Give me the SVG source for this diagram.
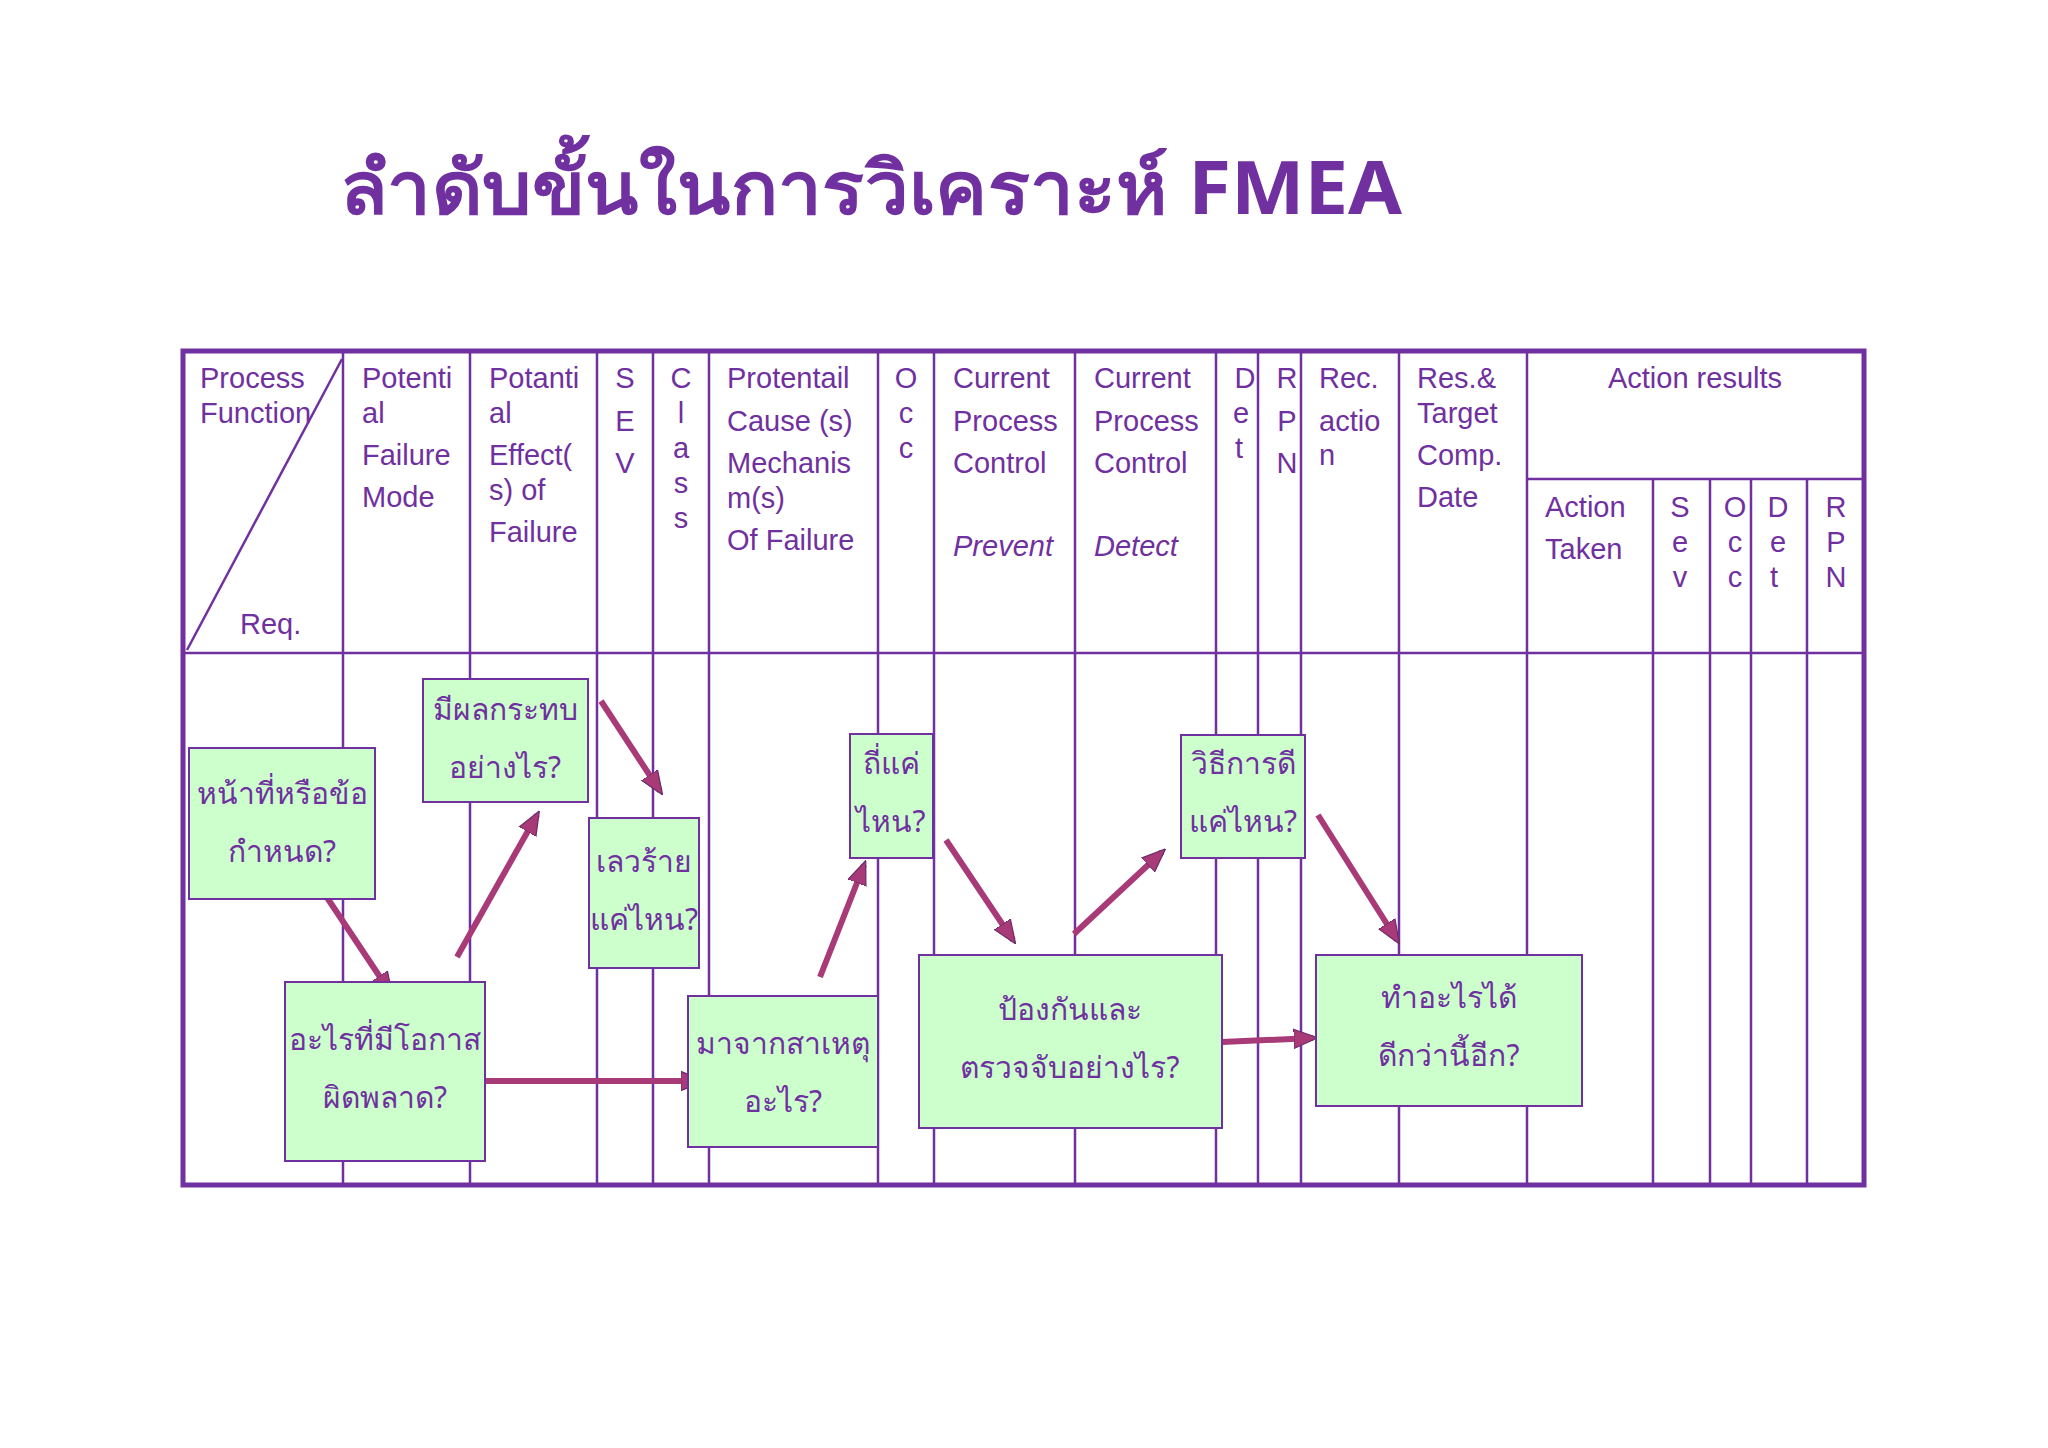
<svg xmlns="http://www.w3.org/2000/svg" width="2048" height="1448" viewBox="0 0 2048 1448">
<style>
.h{font-family:"Liberation Sans",Arial,sans-serif;font-size:29px;fill:#7030a0}
.c{text-anchor:middle}
.ln{stroke:#7030a0;stroke-width:2.5;fill:none}
.box rect{fill:#ccffcc;stroke:#7030a0;stroke-width:2}
.box text{font-family:"Noto Sans","Noto Sans CJK SC","DejaVu Sans",sans-serif;font-size:30px;fill:#7030a0;text-anchor:middle}
.ar{stroke:#a83a78;stroke-width:6;fill:none;marker-end:url(#ah)}
</style>
<defs>
<marker id="ah" viewBox="0 0 10 10" refX="8" refY="5" markerWidth="4" markerHeight="4" orient="auto" markerUnits="strokeWidth">
<path d="M0,1 L10,5 L0,9 z" fill="#a83a78" stroke="#6a2c6a" stroke-width="0.5"/>
</marker>
</defs>
<rect width="2048" height="1448" fill="#fff"/>
<text x="340" y="214" font-family="Noto Sans,DejaVu Sans,sans-serif" font-size="74" font-weight="bold" fill="#7030a0" textLength="1062" lengthAdjust="spacingAndGlyphs">ลำดับขั้นในการวิเคราะห์ FMEA</text>
<g id="table">
<rect x="183" y="351" width="1681" height="834" fill="none" stroke="#7030a0" stroke-width="5"/>
<line class="ln" x1="183" y1="653" x2="1864" y2="653"/>
<line class="ln" x1="1527" y1="479" x2="1864" y2="479"/>
<path class="ln" d="M343 351V1185M470 351V1185M597 351V1185M653 351V1185M709 351V1185M878 351V1185M934 351V1185M1075 351V1185M1216 351V1185M1258 351V1185M1301 351V1185M1399 351V1185M1527 351V1185M1653 479V1185M1710 479V1185M1751 479V1185M1807 479V1185"/>
<line class="ln" x1="342" y1="359" x2="187" y2="650"/>
<g class="h">
<text x="200" y="388">Process</text><text x="200" y="423">Function</text><text x="240" y="634">Req.</text>
<text x="362" y="388">Potenti</text><text x="362" y="423">al</text><text x="362" y="465">Failure</text><text x="362" y="507">Mode</text>
<text x="489" y="388">Potanti</text><text x="489" y="423">al</text><text x="489" y="465">Effect(</text><text x="489" y="500">s) of</text><text x="489" y="542">Failure</text>
<text class="c" x="625" y="388">S</text><text class="c" x="625" y="431">E</text><text class="c" x="625" y="473">V</text>
<text class="c" x="681" y="388">C</text><text class="c" x="681" y="423">l</text><text class="c" x="681" y="458">a</text><text class="c" x="681" y="493">s</text><text class="c" x="681" y="528">s</text>
<text x="727" y="388">Protentail</text><text x="727" y="431">Cause (s)</text><text x="727" y="473">Mechanis</text><text x="727" y="508">m(s)</text><text x="727" y="550">Of Failure</text>
<text class="c" x="906" y="388">O</text><text class="c" x="906" y="423">c</text><text class="c" x="906" y="458">c</text>
<text x="953" y="388">Current</text><text x="953" y="431">Process</text><text x="953" y="473">Control</text><text x="953" y="556" font-style="italic">Prevent</text>
<text x="1094" y="388">Current</text><text x="1094" y="431">Process</text><text x="1094" y="473">Control</text><text x="1094" y="556" font-style="italic">Detect</text>
<text class="c" x="1245" y="388">D</text><text class="c" x="1241" y="423">e</text><text class="c" x="1239" y="458">t</text>
<text class="c" x="1287" y="388">R</text><text class="c" x="1287" y="431">P</text><text class="c" x="1287" y="473">N</text>
<text x="1319" y="388">Rec.</text><text x="1319" y="431">actio</text><text x="1319" y="465">n</text>
<text x="1417" y="388">Res.&amp;</text><text x="1417" y="423">Target</text><text x="1417" y="465">Comp.</text><text x="1417" y="507">Date</text>
<text class="c" x="1695" y="388">Action results</text>
<text x="1545" y="517">Action</text><text x="1545" y="559">Taken</text>
<text class="c" x="1680" y="517">S</text><text class="c" x="1680" y="552">e</text><text class="c" x="1680" y="587">v</text>
<text class="c" x="1735" y="517">O</text><text class="c" x="1735" y="552">c</text><text class="c" x="1735" y="587">c</text>
<text class="c" x="1778" y="517">D</text><text class="c" x="1778" y="552">e</text><text class="c" x="1774" y="587">t</text>
<text class="c" x="1836" y="517">R</text><text class="c" x="1836" y="552">P</text><text class="c" x="1836" y="587">N</text>
</g>
</g>
<g id="connectors">
<line class="ar" x1="324" y1="893" x2="390" y2="992"/>
<line class="ar" x1="457" y1="957" x2="537" y2="815"/>
<line class="ar" x1="601" y1="701" x2="660" y2="791"/>
<line class="ar" x1="485" y1="1081" x2="700" y2="1081"/>
<line class="ar" x1="820" y1="977" x2="864" y2="865"/>
<line class="ar" x1="946" y1="840" x2="1013" y2="940"/>
<line class="ar" x1="1074" y1="934" x2="1162" y2="852"/>
<line class="ar" x1="1318" y1="815" x2="1397" y2="940"/>
<line class="ar" x1="1222" y1="1042" x2="1313" y2="1038" stroke-width="12"/>
</g>
<g id="n1" class="box"><rect x="189" y="748" width="186" height="151"/><text x="282" y="804">หน้าที่หรือข้อ</text><text x="282" y="862">กำหนด?</text></g>
<g id="n2" class="box"><rect x="423" y="679" width="165" height="123"/><text x="505" y="720">มีผลกระทบ</text><text x="505" y="778">อย่างไร?</text></g>
<g id="n3" class="box"><rect x="589" y="818" width="110" height="150"/><text x="644" y="872">เลวร้าย</text><text x="644" y="930">แค่ไหน?</text></g>
<g id="n4" class="box"><rect x="285" y="982" width="200" height="179"/><text x="385" y="1050">อะไรที่มีโอกาส</text><text x="385" y="1108">ผิดพลาด?</text></g>
<g id="n5" class="box"><rect x="688" y="996" width="190" height="151"/><text x="783" y="1054">มาจากสาเหตุ</text><text x="783" y="1112">อะไร?</text></g>
<g id="n6" class="box"><rect x="850" y="734" width="83" height="124"/><text x="891" y="774">ถี่แค่</text><text x="891" y="832">ไหน?</text></g>
<g id="n7" class="box"><rect x="919" y="955" width="303" height="173"/><text x="1070" y="1020">ป้องกันและ</text><text x="1070" y="1078">ตรวจจับอย่างไร?</text></g>
<g id="n8" class="box"><rect x="1181" y="735" width="124" height="123"/><text x="1243" y="774">วิธีการดี</text><text x="1243" y="832">แค่ไหน?</text></g>
<g id="n9" class="box"><rect x="1316" y="955" width="266" height="151"/><text x="1449" y="1008">ทำอะไรได้</text><text x="1449" y="1066">ดีกว่านี้อีก?</text></g>
</svg>
